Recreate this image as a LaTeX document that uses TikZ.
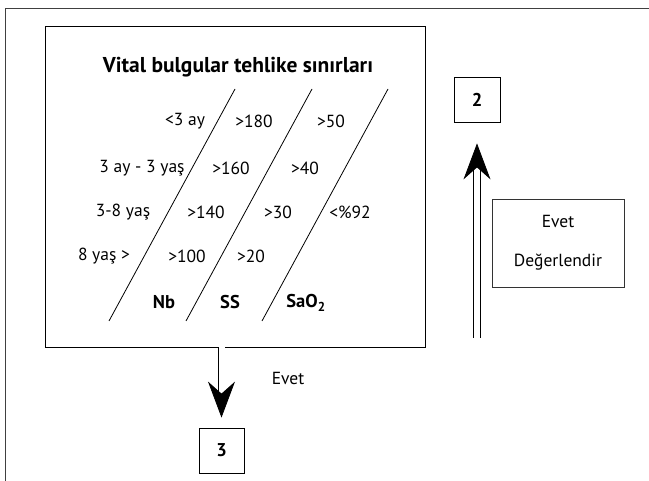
\documentclass[tikz,border=0pt]{standalone}
\usepackage{fontspec}
\setmainfont{PT Sans}
\usetikzlibrary{arrows.meta}

\begin{document}
\begin{tikzpicture}[x=1pt,y=-1pt,line width=0.8pt,
    every node/.style={font=\fontsize{17.5}{21}\selectfont},
    headtxt/.style={font=\fontsize{18.5}{22}\selectfont\bfseries},
    numbox/.style={draw,minimum width=46pt,minimum height=45pt,headtxt},
    dblarrow/.style={double,double distance=6pt,line width=0.8pt,-{Stealth[length=36pt,width=27pt,inset=12pt]}}]

    \useasboundingbox (0,0) rectangle (649,481);

    % outer frame (cut at the right and bottom)
    \draw[black!75] (649,8) -- (5,8) -- (5,481);

    % the table box
    \node[draw,minimum width=380pt,minimum height=321pt] (vital) at (235,186.5) {};
    \node[font=\fontsize{21.5}{25}\selectfont\bfseries] (title) at (238,67) {Vital bulgular tehlike sınırları};

    % slanted separators
    \draw (235,89) -- (109,321);
    \draw (312,89) -- (186,321);
    \draw (388,89) -- (262,321);

    % age groups and limits
    \foreach \px/\py/\txt [count=\i] in {185/121/{<3 ay},254/121/{>180},331/121/{>50},
        142/168/{3 ay - 3 yaş},231/168/{>160},305/168/{>40},
        123/212/{3-8 yaş},206/212/{>140},278/212/{>30},350/212/{<\%92},
        104/256/{8 yaş >},187/256/{>100},251/256/{>20}}
        \node (cell\i) at (\px,\py) {\txt};

    % column heads
    \node[headtxt] (nb) at (164,302) {Nb};
    \node[headtxt] (ss) at (230,302) {SS};
    \node[headtxt] (sao) at (306,303) {SaO\textsubscript{2}};

    % numbered boxes
    \node[numbox] (two) at (477,99.5) {2};
    \node[numbox,minimum width=45pt] (three) at (221.5,450.5) {3};

    % side box
    \node[draw,black!80,text=black,minimum width=132pt,minimum height=88pt,align=center] (evetbox) at (558,243) {Evet\\[18pt]Değerlendir};

    % arrows
    \coordinate (upfoot) at (477,338);
    \draw[dblarrow,shorten >=21pt] (upfoot) -- (two.south);
    \draw[dblarrow,shorten >=10pt] (vital.south -| three.north) -- (three.north);
    \node (evetlbl) at (288,378) {Evet};

\end{tikzpicture}
\end{document}
